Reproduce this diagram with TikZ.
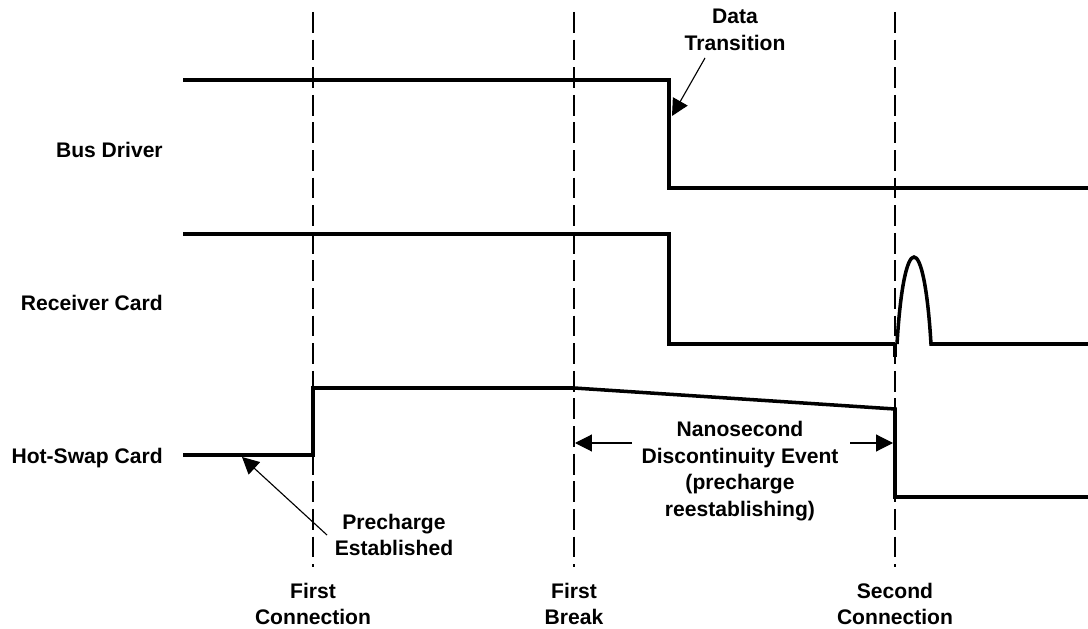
\documentclass[tikz,border=0pt]{standalone}
\usepackage{fontspec}
\setmainfont{Liberation Sans}
\usetikzlibrary{positioning, arrows.meta}

\tikzset{
  signal/.style={line width=2.5pt, line join=miter},
  marker/.style={line width=0.8pt, dash pattern=on 0.52cm off 0.17cm},
  pointer/.style={line width=0.8pt, -{Triangle[length=0.42cm,width=0.42cm]}},
  lbl/.style={font=\bfseries\fontsize{15}{18.8}\selectfont, align=center, inner sep=0pt}
}

\begin{document}
\begin{tikzpicture}[x=0.025cm, y=-0.025cm]
    \useasboundingbox (0,0) rectangle (1088,629);

    % time markers
    \draw[marker] (313,12) -- (313,567);
    \draw[marker] (574,12) -- (574,567);
    \draw[marker] (895,12) -- (895,567);

    % signal traces
    \draw[signal] (183,80) -- (669,80) -- (669,188) -- (1088,188);
    \draw[signal] (183,234) -- (669,234) -- (669,344) -- (895,344);
    \draw[signal] (895,357) -- (895,344);
    \draw[signal] (897,344) .. controls (904,228) and (924,228) .. (931,344) -- (1088,344);
    \draw[signal] (183,455) -- (313,455) -- (313,388) -- (574,388) -- (895,409) -- (895,497) -- (1088,497);

    % trace names
    \node[lbl, anchor=east] (busdrv) at (163,150) {Bus Driver};
    \node[lbl, anchor=east] (rxcard) at (163,303) {Receiver Card};
    \node[lbl, anchor=east] (hscard) at (163,458) {Hot-Swap Card};

    % marker names
    \node[lbl] (firstconn) at (313,604) {First\\Connection};
    \node[lbl] (firstbrk) at (574,604) {First\\Break};
    \node[lbl] (secondconn) at (895,604) {Second\\Connection};

    % annotations
    \node[lbl] (datatrans) at (735,30) {Data\\Transition};
    \coordinate (datastep) at (672,116);
    \draw[pointer] (705,58) -- (datastep);

    \node[lbl] (prechg) at (394,535) {Precharge\\Established};
    \coordinate (prechgpt) at (242,457);
    \draw[pointer] (327,535) -- (prechgpt);

    \node[lbl] (nanoevt) at (740,471) {Nanosecond\\Discontinuity Event\\(precharge\\reestablishing)};
    \coordinate (brkpt) at (575,443);
    \coordinate (connpt) at (893,443);
    \draw[pointer] (632,443) -- (brkpt);
    \draw[pointer] (850,443) -- (connpt);
  \end{tikzpicture}
\end{document}
